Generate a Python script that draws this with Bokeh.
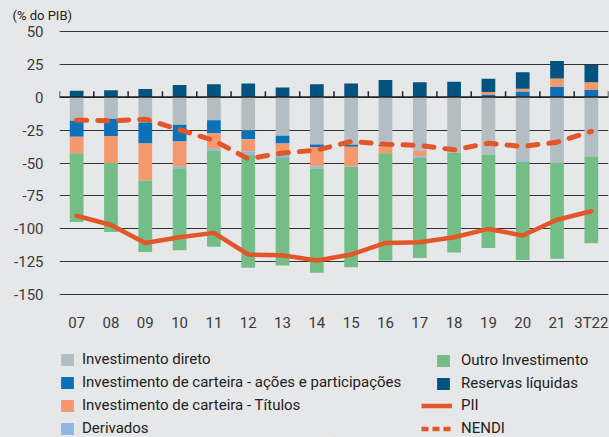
from bokeh.plotting import figure
from bokeh.layouts import column
from bokeh.models import ColumnDataSource, FixedTicker, Legend, LegendItem, Span
from bokeh.embed import file_html
from bokeh.resources import INLINE

# ---------------- data (% do PIB) ----------------
years = ["07", "08", "09", "10", "11", "12", "13", "14", "15", "16", "17", "18", "19", "20", "21", "3T22"]
direto = [-18, -16.5, -19.3, -21, -17.5, -25.4, -29.4, -35.9, -36.2, -36.2, -40.7, -42.2, -43.3, -48, -49.6, -45]
acoes = [-12, -13, -16, -12.7, -10, -6.5, -5.8, -2, -1.5, -1, 0, 0, 2, 4.2, 7.9, 5.4]
titulos = [-12.6, -20.5, -28, -19.1, -11.7, -9.3, -8.6, -14.8, -14.9, -5.5, -4.1, 0, 1.9, 2.2, 6.1, 5.8]
derivados = [0, 0, 0, -1.1, -1.5, -2.6, -2.5, -1.5, -0.5, 0, -1.5, 0, -0.5, -1, 0, 0]
outro = [-52.1, -52.3, -54.1, -62.3, -72.9, -85.7, -81.4, -79.1, -75.9, -81.3, -75.7, -75.7, -70.6, -74.5, -73.1, -65.9]
reservas = [4.7, 5.2, 6.2, 9.2, 9.7, 10.2, 7.2, 9.7, 10.2, 13, 11.2, 11.7, 9.9, 12.4, 13.4, 13.1]
pii = [-90, -97, -110.6, -106.3, -103, -119.4, -120, -124, -119.4, -110.6, -110.1, -106.3, -100, -105, -93, -86.6]
nendi = [-17.5, -18, -16.8, -24.8, -33, -46.8, -42.5, -40.2, -33.7, -35.7, -36.7, -40, -35, -37.5, -34.2, -26]
y_ticks = [-150, -125, -100, -75, -50, -25, 0, 25, 50]

labels = {
    "direto": "Investimento direto",
    "acoes": "Investimento de carteira - ações e participações",
    "titulos": "Investimento de carteira - Títulos",
    "derivados": "Derivados",
    "outro": "Outro Investimento",
    "reservas": "Reservas líquidas",
    "pii": "PII",
    "nendi": "NENDI",
}
colors = {
    "direto": "#b4bdc1",
    "acoes": "#0b72b9",
    "titulos": "#f4996e",
    "derivados": "#90b6e1",
    "outro": "#73be87",
    "reservas": "#02537f",
}
LINE_C = "#e3562a"
BG = "#e6e7e8"
TXT = "#3a3a3a"
FONT = "Roboto"

n = len(years)
xs = list(range(n))

p = figure(width=609, height=340, x_range=(-0.5, n - 0.5), y_range=(-152, 52),
           output_backend="svg", toolbar_location=None,
           min_border_left=59, min_border_right=1, min_border_top=27, min_border_bottom=43,
           background_fill_color=BG, border_fill_color=BG, outline_line_color=None)

# title (unit)
p.title.text = "(% do PIB)"
p.title.align = "left"
p.title.offset = -47
p.title.standoff = 11
p.title.text_font = FONT
p.title.text_font_size = "13px"
p.title.text_font_style = "normal"
p.title.text_color = "#222222"

# grid / axes
p.xgrid.visible = False
p.ygrid.grid_line_color = "#333333"
p.ygrid.grid_line_width = 1.2
p.yaxis.ticker = FixedTicker(ticks=y_ticks)
p.yaxis.major_label_overrides = {t: str(t) for t in y_ticks}
p.xaxis.ticker = FixedTicker(ticks=xs)
p.xaxis.major_label_overrides = {i: y for i, y in enumerate(years)}
for ax in (p.xaxis, p.yaxis):
    ax.axis_line_color = None
    ax.major_tick_line_color = None
    ax.minor_tick_line_color = None
    ax.major_tick_out = 0
    ax.major_tick_in = 0
    ax.major_label_text_font = FONT
    ax.major_label_text_font_size = "15px"
    ax.major_label_text_color = TXT
p.xaxis.major_label_standoff = 16
p.yaxis.major_label_standoff = 16

# stacked bars (positive and negative stacks separately)
series = {"direto": direto, "acoes": acoes, "titulos": titulos,
          "derivados": derivados, "outro": outro, "reservas": reservas}
pos_base = [0.0] * n
neg_base = [0.0] * n
for key, vals in series.items():
    bottoms, tops = [], []
    for i, v in enumerate(vals):
        if v >= 0:
            bottoms.append(pos_base[i]); tops.append(pos_base[i] + v); pos_base[i] += v
        else:
            tops.append(neg_base[i]); bottoms.append(neg_base[i] + v); neg_base[i] += v
    src = ColumnDataSource(dict(x=xs, bottom=bottoms, top=tops))
    p.vbar(x="x", bottom="bottom", top="top", width=0.4, source=src,
           fill_color=colors[key], line_color=None)

# zero line with category-boundary ticks
p.add_layout(Span(location=0, dimension="width", line_color="#222222", line_width=1.4, level="overlay"))
bounds = [i - 0.5 for i in range(n + 1)]
p.segment(x0=bounds, x1=bounds, y0=[0] * len(bounds), y1=[4.5] * len(bounds),
          line_color="#222222", line_width=1.5)

# lines
p.line(xs, pii, line_color=LINE_C, line_width=4.5, line_join="round", line_cap="round")
p.line(xs, nendi, line_color=LINE_C, line_width=5, line_dash="10 11", line_cap="round")

# ---------------- legend panel ----------------
lg = figure(width=609, height=97, x_range=(0, 1), y_range=(0, 1),
            output_backend="svg", toolbar_location=None, x_axis_type=None, y_axis_type=None,
            min_border_left=0, min_border_right=0, min_border_top=0, min_border_bottom=0,
            background_fill_color=BG, border_fill_color=BG, outline_line_color=None)
lg.xgrid.visible = False
lg.ygrid.visible = False

# invisible (zero-size) proxy glyphs that only carry the legend styles
dummy = {}
for key in colors:
    dummy[key] = lg.vbar(x=[0.5], top=[0], bottom=[0], width=0.0, fill_color=colors[key], line_color=None)
dummy["pii"] = lg.line(x=[0.5, 0.5], y=[0, 0], line_color=LINE_C, line_width=4.5)
dummy["nendi"] = lg.line(x=[0.5, 0.5], y=[0, 0], line_color=LINE_C, line_width=4.5, line_dash="7 4")

def add_legend(keys, loc, gw, standoff):
    leg = Legend(items=[LegendItem(label=labels[k], renderers=[dummy[k]]) for k in keys],
                 location=loc, orientation="vertical",
                 glyph_width=gw, glyph_height=15, label_height=15, label_standoff=standoff,
                 spacing=5, padding=0, margin=0,
                 background_fill_alpha=0, border_line_alpha=0,
                 label_text_font=FONT, label_text_font_size="15px", label_text_color="#222222")
    lg.add_layout(leg, "center")

add_legend(["direto", "acoes", "titulos", "derivados"], (0, 0), 16, 7)
add_legend(["outro", "reservas"], (376, 45), 16, 10)
add_legend(["pii", "nendi"], (362, 0), 31, 9)

layout = column(p, lg, spacing=0)

TPL = "{% block postamble %}<style>body{background:#e6e7e8;}</style>{% endblock %}"
open("out.html", "w").write(file_html(layout, INLINE, template=TPL))
